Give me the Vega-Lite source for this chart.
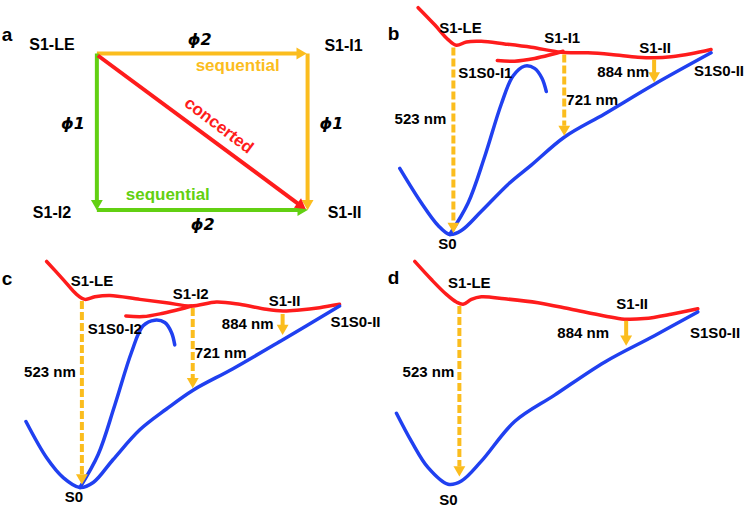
{
  "$schema": "https://vega.github.io/schema/vega-lite/v6.json",
  "width": 745,
  "height": 508,
  "padding": 0,
  "autosize": {"type": "fit", "contains": "padding"},
  "background": "white",
  "config": {"view": {"stroke": null}},
  "datasets": {
    "curves": [
      {"c": "b-S1", "k": "S1", "o": 1, "x": 418.7, "y": 2.7},
      {"c": "b-S1", "k": "S1", "o": 2, "x": 435.3, "y": 20},
      {"c": "b-S1", "k": "S1", "o": 3, "x": 448.7, "y": 35},
      {"c": "b-S1", "k": "S1", "o": 4, "x": 457, "y": 40.7},
      {"c": "b-S1", "k": "S1", "o": 5, "x": 467, "y": 37.3},
      {"c": "b-S1", "k": "S1", "o": 6, "x": 482, "y": 36.7},
      {"c": "b-S1", "k": "S1", "o": 7, "x": 505.3, "y": 39.3},
      {"c": "b-S1", "k": "S1", "o": 8, "x": 532, "y": 42.7},
      {"c": "b-S1", "k": "S1", "o": 9, "x": 562, "y": 47.7},
      {"c": "b-S1", "k": "S1", "o": 10, "x": 588.7, "y": 48.3},
      {"c": "b-S1", "k": "S1", "o": 11, "x": 612, "y": 50},
      {"c": "b-S1", "k": "S1", "o": 12, "x": 638.7, "y": 52.7},
      {"c": "b-S1", "k": "S1", "o": 13, "x": 655.3, "y": 53.3},
      {"c": "b-S1", "k": "S1", "o": 14, "x": 672, "y": 52.3},
      {"c": "b-S1", "k": "S1", "o": 15, "x": 692, "y": 49.3},
      {"c": "b-S1", "k": "S1", "o": 16, "x": 712, "y": 45},
      {"c": "b-S1x", "k": "S1", "o": 1, "x": 498, "y": 56},
      {"c": "b-S1x", "k": "S1", "o": 2, "x": 515.3, "y": 56.7},
      {"c": "b-S1x", "k": "S1", "o": 3, "x": 535.3, "y": 54},
      {"c": "b-S1x", "k": "S1", "o": 4, "x": 552, "y": 50},
      {"c": "b-S1x", "k": "S1", "o": 5, "x": 563.7, "y": 46.7},
      {"c": "b-S0", "k": "S0", "o": 1, "x": 400.3, "y": 165},
      {"c": "b-S0", "k": "S0", "o": 2, "x": 422, "y": 200},
      {"c": "b-S0", "k": "S0", "o": 3, "x": 438.7, "y": 222.7},
      {"c": "b-S0", "k": "S0", "o": 4, "x": 450.3, "y": 231.7},
      {"c": "b-S0", "k": "S0", "o": 5, "x": 462, "y": 227.7},
      {"c": "b-S0", "k": "S0", "o": 6, "x": 482, "y": 208.3},
      {"c": "b-S0", "k": "S0", "o": 7, "x": 510, "y": 180},
      {"c": "b-S0", "k": "S0", "o": 8, "x": 532, "y": 161.7},
      {"c": "b-S0", "k": "S0", "o": 9, "x": 565.3, "y": 133.3},
      {"c": "b-S0", "k": "S0", "o": 10, "x": 605.3, "y": 110},
      {"c": "b-S0", "k": "S0", "o": 11, "x": 655.3, "y": 80},
      {"c": "b-S0", "k": "S0", "o": 12, "x": 712, "y": 48.3},
      {"c": "b-S0x", "k": "S0", "o": 1, "x": 450.3, "y": 231.7},
      {"c": "b-S0x", "k": "S0", "o": 2, "x": 468.7, "y": 200},
      {"c": "b-S0x", "k": "S0", "o": 3, "x": 485.3, "y": 153.3},
      {"c": "b-S0x", "k": "S0", "o": 4, "x": 502, "y": 100},
      {"c": "b-S0x", "k": "S0", "o": 5, "x": 513.7, "y": 71.7},
      {"c": "b-S0x", "k": "S0", "o": 6, "x": 525.3, "y": 61.7},
      {"c": "b-S0x", "k": "S0", "o": 7, "x": 535.3, "y": 64},
      {"c": "b-S0x", "k": "S0", "o": 8, "x": 542.7, "y": 74},
      {"c": "b-S0x", "k": "S0", "o": 9, "x": 547, "y": 87.3},
      {"c": "c-S1", "k": "S1", "o": 1, "x": 46.7, "y": 259},
      {"c": "c-S1", "k": "S1", "o": 2, "x": 63.3, "y": 277.3},
      {"c": "c-S1", "k": "S1", "o": 3, "x": 76.7, "y": 292.3},
      {"c": "c-S1", "k": "S1", "o": 4, "x": 85, "y": 297.3},
      {"c": "c-S1", "k": "S1", "o": 5, "x": 95, "y": 294.7},
      {"c": "c-S1", "k": "S1", "o": 6, "x": 110, "y": 293.3},
      {"c": "c-S1", "k": "S1", "o": 7, "x": 140, "y": 297.3},
      {"c": "c-S1", "k": "S1", "o": 8, "x": 166.7, "y": 300.7},
      {"c": "c-S1", "k": "S1", "o": 9, "x": 191.7, "y": 304},
      {"c": "c-S1", "k": "S1", "o": 10, "x": 216.7, "y": 300},
      {"c": "c-S1", "k": "S1", "o": 11, "x": 240, "y": 302.3},
      {"c": "c-S1", "k": "S1", "o": 12, "x": 266.7, "y": 307.3},
      {"c": "c-S1", "k": "S1", "o": 13, "x": 283.3, "y": 309},
      {"c": "c-S1", "k": "S1", "o": 14, "x": 300, "y": 308},
      {"c": "c-S1", "k": "S1", "o": 15, "x": 320, "y": 305.7},
      {"c": "c-S1", "k": "S1", "o": 16, "x": 340, "y": 302.3},
      {"c": "c-S1x", "k": "S1", "o": 1, "x": 126, "y": 314},
      {"c": "c-S1x", "k": "S1", "o": 2, "x": 143.3, "y": 314.7},
      {"c": "c-S1x", "k": "S1", "o": 3, "x": 163.3, "y": 311.3},
      {"c": "c-S1x", "k": "S1", "o": 4, "x": 180, "y": 307.3},
      {"c": "c-S1x", "k": "S1", "o": 5, "x": 191.7, "y": 304},
      {"c": "c-S0", "k": "S0", "o": 1, "x": 26, "y": 420.7},
      {"c": "c-S0", "k": "S0", "o": 2, "x": 46.7, "y": 457.3},
      {"c": "c-S0", "k": "S0", "o": 3, "x": 63.3, "y": 477.3},
      {"c": "c-S0", "k": "S0", "o": 4, "x": 80, "y": 487.3},
      {"c": "c-S0", "k": "S0", "o": 5, "x": 93.3, "y": 482.3},
      {"c": "c-S0", "k": "S0", "o": 6, "x": 113.3, "y": 459},
      {"c": "c-S0", "k": "S0", "o": 7, "x": 140, "y": 429},
      {"c": "c-S0", "k": "S0", "o": 8, "x": 166.7, "y": 408},
      {"c": "c-S0", "k": "S0", "o": 9, "x": 193.3, "y": 389},
      {"c": "c-S0", "k": "S0", "o": 10, "x": 233.3, "y": 367.3},
      {"c": "c-S0", "k": "S0", "o": 11, "x": 283.3, "y": 338},
      {"c": "c-S0", "k": "S0", "o": 12, "x": 340, "y": 304},
      {"c": "c-S0x", "k": "S0", "o": 1, "x": 80, "y": 487.3},
      {"c": "c-S0x", "k": "S0", "o": 2, "x": 98.3, "y": 454},
      {"c": "c-S0x", "k": "S0", "o": 3, "x": 115, "y": 404},
      {"c": "c-S0x", "k": "S0", "o": 4, "x": 131.7, "y": 350.7},
      {"c": "c-S0x", "k": "S0", "o": 5, "x": 143.3, "y": 324},
      {"c": "c-S0x", "k": "S0", "o": 6, "x": 155, "y": 318.3},
      {"c": "c-S0x", "k": "S0", "o": 7, "x": 165, "y": 320.7},
      {"c": "c-S0x", "k": "S0", "o": 8, "x": 171.7, "y": 330.7},
      {"c": "c-S0x", "k": "S0", "o": 9, "x": 175, "y": 343.3},
      {"c": "d-S1", "k": "S1", "o": 1, "x": 415.3, "y": 259},
      {"c": "d-S1", "k": "S1", "o": 2, "x": 432, "y": 277.3},
      {"c": "d-S1", "k": "S1", "o": 3, "x": 447, "y": 292.3},
      {"c": "d-S1", "k": "S1", "o": 4, "x": 457, "y": 300},
      {"c": "d-S1", "k": "S1", "o": 5, "x": 463.7, "y": 302.3},
      {"c": "d-S1", "k": "S1", "o": 6, "x": 472, "y": 297.3},
      {"c": "d-S1", "k": "S1", "o": 7, "x": 482, "y": 294.7},
      {"c": "d-S1", "k": "S1", "o": 8, "x": 505.3, "y": 296.7},
      {"c": "d-S1", "k": "S1", "o": 9, "x": 538.7, "y": 300.7},
      {"c": "d-S1", "k": "S1", "o": 10, "x": 572, "y": 307.3},
      {"c": "d-S1", "k": "S1", "o": 11, "x": 605.3, "y": 314},
      {"c": "d-S1", "k": "S1", "o": 12, "x": 625.3, "y": 317.3},
      {"c": "d-S1", "k": "S1", "o": 13, "x": 645.3, "y": 316.7},
      {"c": "d-S1", "k": "S1", "o": 14, "x": 672, "y": 312.3},
      {"c": "d-S1", "k": "S1", "o": 15, "x": 698.7, "y": 306.7},
      {"c": "d-S0", "k": "S0", "o": 1, "x": 397, "y": 412.3},
      {"c": "d-S0", "k": "S0", "o": 2, "x": 412, "y": 440.7},
      {"c": "d-S0", "k": "S0", "o": 3, "x": 428.7, "y": 467.3},
      {"c": "d-S0", "k": "S0", "o": 4, "x": 448.7, "y": 484},
      {"c": "d-S0", "k": "S0", "o": 5, "x": 462, "y": 480.7},
      {"c": "d-S0", "k": "S0", "o": 6, "x": 482, "y": 460.7},
      {"c": "d-S0", "k": "S0", "o": 7, "x": 515.3, "y": 420.7},
      {"c": "d-S0", "k": "S0", "o": 8, "x": 555.3, "y": 394},
      {"c": "d-S0", "k": "S0", "o": 9, "x": 605.3, "y": 360.7},
      {"c": "d-S0", "k": "S0", "o": 10, "x": 655.3, "y": 334},
      {"c": "d-S0", "k": "S0", "o": 11, "x": 698.7, "y": 310}
    ],
    "paths": [
      {"p": "LE to I1", "k": "via S1-I1", "x": 97, "y": 49, "x2": 300, "y2": 49},
      {"p": "I1 to II", "k": "via S1-I1", "x": 308, "y": 49, "x2": 308, "y2": 199},
      {"p": "LE to I2", "k": "via S1-I2", "x": 97, "y": 49, "x2": 97, "y2": 199},
      {"p": "I2 to II", "k": "via S1-I2", "x": 97, "y": 207, "x2": 300, "y2": 207},
      {"p": "LE to II", "k": "concerted", "x": 98, "y": 51, "x2": 299, "y2": 201}
    ],
    "drops": [
      {"t": "523 nm", "s": "dashed", "x": 454, "y": 43, "y2": 220},
      {"t": "721 nm", "s": "dashed", "x": 565, "y": 50, "y2": 122},
      {"t": "884 nm", "s": "solid", "x": 655, "y": 55, "y2": 69},
      {"t": "523 nm", "s": "dashed", "x": 82, "y": 299, "y2": 474},
      {"t": "721 nm", "s": "dashed", "x": 193, "y": 306, "y2": 377},
      {"t": "884 nm", "s": "solid", "x": 283, "y": 312, "y2": 324},
      {"t": "523 nm", "s": "dashed", "x": 460, "y": 304, "y2": 466},
      {"t": "884 nm", "s": "solid", "x": 627, "y": 319, "y2": 335}
    ],
    "heads": [
      {"k": "emission", "dir": "down", "x": 454, "y": 225},
      {"k": "emission", "dir": "down", "x": 565, "y": 127},
      {"k": "emission", "dir": "down", "x": 655, "y": 73},
      {"k": "emission", "dir": "down", "x": 82, "y": 479},
      {"k": "emission", "dir": "down", "x": 193, "y": 382},
      {"k": "emission", "dir": "down", "x": 283, "y": 328},
      {"k": "emission", "dir": "down", "x": 460, "y": 471},
      {"k": "emission", "dir": "down", "x": 627, "y": 339},
      {"k": "via S1-I1", "dir": "right", "x": 302, "y": 49},
      {"k": "via S1-I1", "dir": "down", "x": 308, "y": 202},
      {"k": "via S1-I2", "dir": "down", "x": 97, "y": 202},
      {"k": "via S1-I2", "dir": "right", "x": 303, "y": 207},
      {"k": "concerted", "dir": "diag", "x": 302, "y": 203}
    ],
    "labels": [
      {"role": "panel", "k": "text", "t": "a", "x": 7, "y": 30},
      {"role": "panel", "k": "text", "t": "b", "x": 394, "y": 29},
      {"role": "panel", "k": "text", "t": "c", "x": 7, "y": 277},
      {"role": "panel", "k": "text", "t": "d", "x": 394, "y": 276},
      {"role": "big", "k": "text", "t": "S1-LE", "x": 52, "y": 40},
      {"role": "big", "k": "text", "t": "S1-I1", "x": 344, "y": 41},
      {"role": "big", "k": "text", "t": "S1-I2", "x": 52, "y": 210},
      {"role": "big", "k": "text", "t": "S1-II", "x": 345, "y": 210},
      {"role": "phi", "k": "text", "t": "ϕ2", "x": 200, "y": 35},
      {"role": "phi", "k": "text", "t": "ϕ1", "x": 73, "y": 120},
      {"role": "phi", "k": "text", "t": "ϕ1", "x": 332, "y": 120},
      {"role": "phi", "k": "text", "t": "ϕ2", "x": 203, "y": 222},
      {"role": "path", "k": "via S1-I1", "t": "sequential", "x": 238, "y": 62},
      {"role": "path", "k": "via S1-I2", "t": "sequential", "x": 168, "y": 192},
      {"role": "state", "k": "text", "t": "S1-LE", "x": 461, "y": 23},
      {"role": "state", "k": "text", "t": "S1-I1", "x": 563, "y": 33},
      {"role": "state", "k": "text", "t": "S1-II", "x": 656, "y": 43},
      {"role": "state", "k": "text", "t": "S1S0-I1", "x": 486, "y": 69},
      {"role": "state", "k": "text", "t": "884 nm", "x": 624, "y": 68},
      {"role": "state", "k": "text", "t": "S1S0-II", "x": 720, "y": 67},
      {"role": "state", "k": "text", "t": "721 nm", "x": 593, "y": 96},
      {"role": "state", "k": "text", "t": "523 nm", "x": 421, "y": 115},
      {"role": "state", "k": "text", "t": "S0", "x": 448, "y": 241},
      {"role": "state", "k": "text", "t": "S1-LE", "x": 92, "y": 279},
      {"role": "state", "k": "text", "t": "S1-I2", "x": 191, "y": 292},
      {"role": "state", "k": "text", "t": "S1-II", "x": 285, "y": 299},
      {"role": "state", "k": "text", "t": "S1S0-I2", "x": 115, "y": 327},
      {"role": "state", "k": "text", "t": "884 nm", "x": 248, "y": 322},
      {"role": "state", "k": "text", "t": "S1S0-II", "x": 356, "y": 320},
      {"role": "state", "k": "text", "t": "721 nm", "x": 221, "y": 351},
      {"role": "state", "k": "text", "t": "523 nm", "x": 50, "y": 371},
      {"role": "state", "k": "text", "t": "S0", "x": 74, "y": 497},
      {"role": "state", "k": "text", "t": "S1-LE", "x": 470, "y": 281},
      {"role": "state", "k": "text", "t": "S1-II", "x": 633, "y": 302},
      {"role": "state", "k": "text", "t": "884 nm", "x": 584, "y": 331},
      {"role": "state", "k": "text", "t": "S1S0-II", "x": 716, "y": 331},
      {"role": "state", "k": "text", "t": "523 nm", "x": 429, "y": 371},
      {"role": "state", "k": "text", "t": "S0", "x": 449, "y": 500}
    ],
    "angled": [
      {"k": "concerted", "t": "concerted", "x": 219, "y": 122}
    ]
  },
  "encoding": {
    "x": {"field": "x", "type": "quantitative", "scale": {"domain": [0, 745], "nice": false, "zero": false}, "axis": null},
    "y": {"field": "y", "type": "quantitative", "scale": {"domain": [0, 508], "nice": false, "zero": false, "reverse": true}, "axis": null},
    "color": {
      "field": "k", "type": "nominal", "legend": null,
      "scale": {
        "domain": ["S1", "S0", "emission", "via S1-I1", "via S1-I2", "concerted", "text"],
        "range": ["#fe1c1c", "#2040f0", "#fbbd1e", "#fbbd1e", "#62d012", "#fe1c1c", "#000000"]
      }
    }
  },
  "layer": [
    {
      "data": {"name": "curves"},
      "mark": {"type": "line", "strokeWidth": 3.5, "interpolate": "catmull-rom", "strokeCap": "round"},
      "encoding": {"detail": {"field": "c"}, "order": {"field": "o", "type": "quantitative"}}
    },
    {
      "data": {"name": "paths"},
      "mark": {"type": "rule", "strokeWidth": 4},
      "encoding": {"x2": {"field": "x2"}, "y2": {"field": "y2"}}
    },
    {
      "data": {"name": "drops"},
      "transform": [{"calculate": "'emission'", "as": "k"}],
      "mark": {"type": "rule", "strokeWidth": 4},
      "encoding": {
        "y2": {"field": "y2"},
        "strokeDash": {"field": "s", "type": "nominal", "legend": null, "scale": {"domain": ["dashed", "solid"], "range": [[8, 3], [1, 0]]}}
      }
    },
    {
      "data": {"name": "heads"},
      "transform": [{"filter": "datum.dir !== 'diag'"}],
      "mark": {"type": "point", "filled": true, "opacity": 1, "size": 140},
      "encoding": {
        "shape": {"field": "dir", "type": "nominal", "legend": null, "scale": {"domain": ["down", "right"], "range": ["triangle-down", "triangle-right"]}}
      }
    },
    {
      "data": {"name": "heads"},
      "transform": [{"filter": "datum.dir === 'diag'"}],
      "mark": {"type": "point", "filled": true, "opacity": 1, "size": 140, "shape": "triangle-right", "angle": 37}
    },
    {
      "data": {"name": "labels"},
      "transform": [{"filter": "datum.role === 'state'"}],
      "mark": {"type": "text", "font": "Liberation Sans", "fontWeight": "bold", "fontSize": 15, "align": "center", "baseline": "middle"},
      "encoding": {"text": {"field": "t"}}
    },
    {
      "data": {"name": "labels"},
      "transform": [{"filter": "datum.role === 'big'"}],
      "mark": {"type": "text", "font": "Liberation Sans", "fontWeight": "bold", "fontSize": 16, "align": "center", "baseline": "middle"},
      "encoding": {"text": {"field": "t"}}
    },
    {
      "data": {"name": "labels"},
      "transform": [{"filter": "datum.role === 'panel'"}],
      "mark": {"type": "text", "font": "Liberation Sans", "fontWeight": "bold", "fontSize": 19, "align": "center", "baseline": "middle"},
      "encoding": {"text": {"field": "t"}}
    },
    {
      "data": {"name": "labels"},
      "transform": [{"filter": "datum.role === 'phi'"}],
      "mark": {"type": "text", "font": "DejaVu Sans", "fontWeight": "bold", "fontStyle": "italic", "fontSize": 16, "align": "center", "baseline": "middle"},
      "encoding": {"text": {"field": "t"}}
    },
    {
      "data": {"name": "labels"},
      "transform": [{"filter": "datum.role === 'path'"}],
      "mark": {"type": "text", "font": "Liberation Sans", "fontWeight": "bold", "fontSize": 17, "align": "center", "baseline": "middle"},
      "encoding": {"text": {"field": "t"}}
    },
    {
      "data": {"name": "angled"},
      "mark": {"type": "text", "font": "Liberation Sans", "fontWeight": "bold", "fontSize": 17, "align": "center", "baseline": "middle", "angle": 37},
      "encoding": {"text": {"field": "t"}}
    }
  ]
}
